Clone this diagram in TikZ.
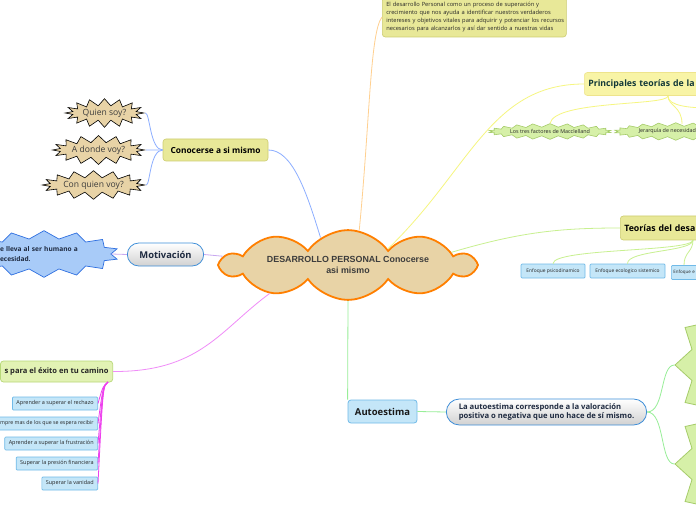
\documentclass[tikz,border=0pt]{standalone}
\usepackage{fontspec}
\setmainfont{Open Sans}
\newfontfamily\arialfont{Liberation Sans}
\usetikzlibrary{shapes.symbols,shapes.misc,shapes.geometric}
\definecolor{tanfill}{HTML}{E8D3A6}
\definecolor{orangeline}{HTML}{FF7F00}
\definecolor{khaki}{HTML}{E8E898}
\definecolor{khakiline}{HTML}{CCCC70}
\definecolor{paleyellow}{HTML}{F8F4A6}
\definecolor{paleyellowline}{HTML}{EEE48C}
\definecolor{lgreen}{HTML}{D6F0A8}
\definecolor{lgreenline}{HTML}{A6CC6A}
\definecolor{lblue}{HTML}{C4E6F8}
\definecolor{lblueline}{HTML}{70BAE8}
\definecolor{pillline}{HTML}{3E8ED8}
\definecolor{bstar}{HTML}{A8CBF8}
\definecolor{bstarline}{HTML}{2E6FE0}
\definecolor{exfill}{HTML}{E2F2B4}
\definecolor{exline}{HTML}{B8D878}
\definecolor{cblue}{HTML}{8CAEFF}
\definecolor{cpurple}{HTML}{C8A8F0}
\definecolor{corange}{HTML}{FFD090}
\definecolor{cyellow}{HTML}{F6F680}
\definecolor{cgreen}{HTML}{C8F090}
\definecolor{cmag}{HTML}{F08CF8}
\definecolor{cmagd}{HTML}{EE40EE}
\definecolor{cgreentwo}{HTML}{98EE98}
\definecolor{darktext}{HTML}{1E2A40}
\definecolor{tealtext}{HTML}{123838}
\definecolor{graytext}{HTML}{3C3C3C}
\begin{document}
\begin{tikzpicture}[x=1bp,y=-1bp,
  conn/.style={line width=0.8bp},
  cloudnode/.style={cloud, cloud puffs=10, cloud puff arc=110, cloud ignores aspect,
    minimum width=252bp, minimum height=52bp, fill=tanfill, draw=orangeline,
    line width=1.8bp, font=\arialfont\bfseries\fontsize{8.9}{10.5}\selectfont,
    text=graytext, align=center},
  kbox/.style={rectangle, rounded corners=3bp, fill=khaki, draw=khakiline, line width=0.6bp},
  pbox/.style={rectangle, rounded corners=3bp, fill=paleyellow, draw=paleyellowline, line width=0.6bp},
  tanstar/.style={starburst, random starburst=0, starburst points=16, starburst point height=7bp,
    fill=tanfill, draw=black, line width=0.6bp, inner sep=1bp,
    font=\fontsize{8.6}{9}\selectfont, text=graytext},
  gstar/.style={starburst, random starburst=0, starburst points=22, starburst point height=3.5bp,
    fill=lgreen, draw=lgreenline, line width=0.6bp, inner sep=1bp,
    font=\fontsize{5.4}{6}\selectfont, text=black!85},
  gbig/.style={star, star points=12, star point ratio=1.25, minimum size=150bp,
    fill=lgreen, draw=lgreenline, line width=0.8bp, inner sep=0pt},
  ebox/.style={rectangle, rounded corners=1bp, fill=lblue, draw=lblueline, line width=0.7bp,
    minimum height=14bp, inner xsep=3bp, font=\fontsize{4.9}{5.5}\selectfont, text=black!85},
  sbox/.style={ebox, minimum height=13bp, inner xsep=4bp, font=\fontsize{5.5}{6}\selectfont},
  pill/.style={rounded rectangle, top color=white, bottom color=black!18, draw=pillline,
    line width=0.8bp, text=darktext},
  bstarn/.style={starburst, random starburst=0, starburst points=14, starburst point height=8bp,
    fill=bstar, draw=bstarline, line width=0.7bp, font=\bfseries\fontsize{6.6}{10}\selectfont,
    text=darktext},
  exbox/.style={rectangle, rounded corners=3bp, fill=exfill, draw=exline, line width=0.7bp,
    font=\bfseries\fontsize{7.6}{9}\selectfont, text=black!85},
  abox/.style={rectangle, rounded corners=3bp, fill=lblue, draw=lblueline, line width=0.8bp,
    font=\bfseries\fontsize{9.5}{11}\selectfont, text=black!90}
]
\useasboundingbox (0,0) rectangle (696,520);
\clip (0,0) rectangle (696,520);
\fill[white] (0,0) rectangle (696,520);

% ---- nodes ----
\node[cloudnode] (c) at (348,265) {DESARROLLO PERSONAL Conocerse\\asi mismo};

\node[kbox, anchor=north west, text width=176bp, align=left, inner xsep=4bp, inner ysep=5bp,
  font=\fontsize{5.75}{8}\selectfont, text=black!85] (intro) at (382,-3)
  {\mbox{El desarrollo Personal como un proceso de superación y}\\
   \mbox{crecimiento que nos ayuda a identificar nuestros verdaderos}\\
   \mbox{intereses y objetivos vitales para adquirir y potenciar los recursos}\\
   \mbox{necesarios para alcanzarlos y así dar sentido a nuestras vidas}};

\node[pbox, anchor=west, text width=150bp, align=left, minimum height=23bp, inner xsep=4bp,
  font=\bfseries\fontsize{8.8}{10}\selectfont, text=tealtext] (princ) at (584,84) {Principales teorías de la};
\node[gstar] (mac) at (550,131.5) {Los tres factores de Macclelland};
\node[gstar, anchor=west] (jer) at (617,131.5) {\hspace*{3bp}Jerarquía de necesidad\hspace*{20bp}};

\node[kbox, anchor=west, text width=120bp, align=left, minimum height=24bp, inner xsep=4bp,
  font=\bfseries\fontsize{8.8}{10}\selectfont, text=black] (teor) at (620,228) {Teorías del desa};
\node[ebox, minimum width=64bp] (e1) at (553,271) {Enfoque psicodinamico};
\node[ebox, minimum width=75bp] (e2) at (627.5,271) {Enfoque ecologico sistemico};
\node[ebox, anchor=west, text width=60bp, align=left, inner xsep=2bp,
  font=\fontsize{4.5}{5.5}\selectfont] (e3) at (671,272.5) {Enfoque e};

\node[kbox, minimum width=105bp, minimum height=22bp, font=\bfseries\fontsize{8.4}{10}\selectfont,
  text=black] (con) at (215.5,150) {Conocerse a si mismo};
\node[tanstar, minimum width=65bp, minimum height=26bp] (q1) at (104.5,113) {Quien soy?};
\node[tanstar, minimum width=77bp, minimum height=25bp] (q2) at (98.5,150) {A donde voy?};
\node[tanstar, minimum width=87bp, minimum height=26bp] (q3) at (93.5,185) {Con quien voy?};

\node[pill, minimum width=83bp, minimum height=23bp, font=\bfseries\fontsize{9.4}{11}\selectfont]
  (mot) at (165.5,254.5) {Motivación};
\node[bstarn, text width=88bp, align=left, minimum width=112bp, minimum height=36bp]
  (bs) at (44,254) {e lleva al ser humano a\\ecesidad.};

\node[exbox, anchor=east, minimum height=21bp, inner xsep=4bp] (ex) at (113,371.5) {s para el éxito en tu camino};
\node[sbox, anchor=east] (s1) at (98,403.5) {Aprender a superar el rechazo};
\node[sbox, anchor=east, font=\fontsize{5.3}{6}\selectfont] (s2) at (98,423.5) {mpre mas de los que se espera recibir};
\node[sbox, anchor=east] (s3) at (98,443.5) {Aprender a superar la frustración};
\node[sbox, anchor=east] (s4) at (98,463.5) {Superar la presión financiera};
\node[sbox, anchor=east] (s5) at (98,483.5) {Superar la vanidad};

\node[abox, minimum width=69bp, minimum height=23bp] (aut) at (382.5,411.5) {Autoestima};
\node[pill, minimum width=207bp, minimum height=26bp, align=left,
  font=\bfseries\fontsize{7.7}{9.5}\selectfont] (ad) at (546.5,412)
  {La autoestima corresponde a la valoración\\positiva o negativa que uno hace de sí mismo.};
\node[gbig] (g1) at (750,365) {};
\node[gbig] (g2) at (750,464) {};

% ---- connectors ----
\draw[conn, cblue] (con.east) .. controls (292,150) and (306,190) .. (c.135);
\draw[conn, cblue] (con.west) .. controls (150,150) and (150,113) .. (q1.east);
\draw[conn, cblue] (con.west) -- (q2.east);
\draw[conn, cblue] (con.west) .. controls (150,150) and (150,185) .. (q3.east);

\draw[conn, corange] (c.72) .. controls (370,120) and (370,32) .. (intro.west);
\draw[conn, cyellow] (c.22) .. controls (470,170) and (490,84) .. (princ.west);
\coordinate (pj) at (668,96);
\coordinate (pr) at (710,108);
\draw[conn, cyellow] (pj) .. controls (668,106) and (555,100) .. (mac.north);
\draw[conn, cyellow] (pj) .. controls (668,106) and (682,106) .. (682,124);
\draw[conn, cyellow] (pj) .. controls (668,106) and (690,108) .. (pr);

\draw[conn, cgreen] (c.7) .. controls (520,232) and (560,228) .. (teor.west);
\coordinate (tj) at (693,240);
\draw[conn, cgreen] (tj) .. controls (693,252) and (553,248) .. (e1.north);
\draw[conn, cgreen] (tj) .. controls (693,252) and (627,250) .. (e2.north);
\draw[conn, cgreen] (tj) .. controls (693,252) and (684,252) .. (684,265);

\draw[conn, cpurple] (c.176) -- (mot.east);
\draw[conn, cpurple] (mot.west) -- (bs.east);

\draw[conn, cmag] (c.200) .. controls (220,330) and (200,372) .. (ex.east);
\coordinate (xj) at (108,382);
\foreach \n in {s1,s2,s3,s4,s5}
  \draw[conn, cmagd] (xj) .. controls (103,386) and (103,386) .. (\n.east);

\draw[conn, cgreentwo] (c.south) -- (aut.north west);
\draw[conn, cgreentwo] (aut.east) -- (ad.west);
\draw[conn, cgreentwo] (ad.east) .. controls (665,412) and (660,365) .. (g1.west);
\draw[conn, cgreentwo] (ad.east) .. controls (665,412) and (660,464) .. (g2.west);
\end{tikzpicture}
\end{document}
